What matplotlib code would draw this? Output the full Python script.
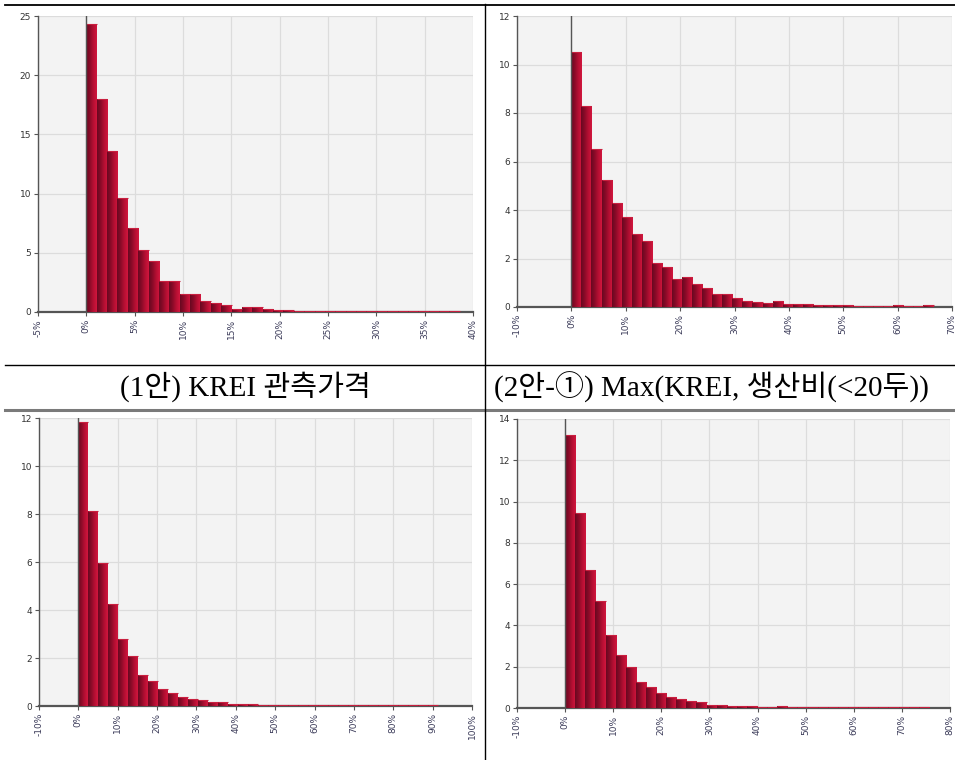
import numpy as np
import matplotlib
matplotlib.use("Agg")
import matplotlib.pyplot as plt
from matplotlib.colors import LinearSegmentedColormap
from matplotlib.lines import Line2D

# ---------------- data ----------------
captions = ["(1안) KREI 관측가격", "(2안-①) Max(KREI, 생산비(<20두))"]

# panel 1 (top-left)
p1_bin_width = 1.073
p1_values = [24.3, 18.0, 13.6, 9.6, 7.07, 5.25, 4.28, 2.62, 2.62, 1.49, 1.49, 0.96,
             0.79, 0.62, 0.28, 0.45, 0.45, 0.28, 0.2, 0.2, 0.1, 0.1, 0.1, 0.1,
             0.1, 0.1, 0.1, 0.1, 0.1, 0.1, 0.1, 0.1, 0.1, 0.1, 0.1, 0.1]
p1_xticks = [-5, 0, 5, 10, 15, 20, 25, 30, 35, 40]
p1_yticks = [0, 5, 10, 15, 20, 25]

# panel 2 (top-right)
p2_bin_width = 1.85
p2_values = [10.52, 8.3, 6.5, 5.23, 4.3, 3.73, 3.02, 2.71, 1.82, 1.65, 1.17, 1.23,
             0.96, 0.8, 0.54, 0.54, 0.37, 0.25, 0.21, 0.17, 0.25, 0.12, 0.12, 0.12,
             0.08, 0.08, 0.08, 0.08, 0.04, 0.04, 0.04, 0.04, 0.08, 0.04, 0.04, 0.08]
p2_xticks = [-10, 0, 10, 20, 30, 40, 50, 60, 70]
p2_yticks = [0, 2, 4, 6, 8, 10, 12]

# panel 3 (bottom-left)
p3_bin_width = 2.54
p3_values = [11.83, 8.14, 5.95, 4.23, 2.78, 2.09, 1.31, 1.04, 0.7, 0.53, 0.38, 0.28,
             0.24, 0.15, 0.15, 0.07, 0.07, 0.07, 0.03, 0.03, 0.03, 0.03, 0.03, 0.03,
             0.03, 0.03, 0.03, 0.03, 0.03, 0.03, 0.03, 0.03, 0.03, 0.03, 0.03, 0.03]
p3_xticks = [-10, 0, 10, 20, 30, 40, 50, 60, 70, 80, 90, 100]
p3_yticks = [0, 2, 4, 6, 8, 10, 12]

# panel 4 (bottom-right)
p4_bin_width = 2.10
p4_values = [13.24, 9.44, 6.67, 5.17, 3.53, 2.58, 1.98, 1.27, 1.03, 0.72, 0.55, 0.43,
             0.34, 0.29, 0.14, 0.14, 0.1, 0.1, 0.1, 0.05, 0.05, 0.1, 0.05, 0.05,
             0.05, 0.05, 0.05, 0.05, 0.05, 0.05, 0.05, 0.05, 0.05, 0.05, 0.05, 0.05]
p4_xticks = [-10, 0, 10, 20, 30, 40, 50, 60, 70, 80]
p4_yticks = [0, 2, 4, 6, 8, 10, 12, 14]

panels = [
    (p1_bin_width, p1_values, p1_xticks, p1_yticks),
    (p2_bin_width, p2_values, p2_xticks, p2_yticks),
    (p3_bin_width, p3_values, p3_xticks, p3_yticks),
    (p4_bin_width, p4_values, p4_xticks, p4_yticks),
]

# ---------------- layout ----------------
W, H = 955, 760
fig = plt.figure(figsize=(W / 100, H / 100), dpi=100)
fig.patch.set_facecolor("white")

def px_axes(left, right, top, bottom):
    return [left / W, 1 - bottom / H, (right - left) / W, (bottom - top) / H]

boxes = [
    px_axes(38, 473, 16, 312),
    px_axes(517, 952, 16, 307),
    px_axes(39, 472, 418, 706),
    px_axes(517, 950, 419, 708),
]

cmap = LinearSegmentedColormap.from_list(
    "bargrad", ["#680820", "#8a0b28", "#b50f33", "#d2163e"])
grad = np.linspace(0, 1, 64).reshape(1, -1)

for (bw, vals, xt, yt), box in zip(panels, boxes):
    ax = fig.add_axes(box)
    ax.set_facecolor("#f3f3f3")
    edges = np.arange(len(vals)) * bw
    bars = ax.bar(edges, vals, width=bw, align="edge", color="#a00d2d",
                  edgecolor="none", zorder=3)
    for b in bars:
        x0, y0 = b.get_x(), b.get_y()
        w, h = b.get_width(), b.get_height()
        im = ax.imshow(grad, extent=[x0, x0 + w, y0, y0 + h], aspect="auto",
                       cmap=cmap, origin="lower", zorder=3.5, interpolation="bilinear")
        im.set_clip_path(b)
        ax.plot([x0, x0 + w], [h, h], color="#c8203f", lw=0.8, zorder=4,
                solid_capstyle="butt")
    ax.set_xlim(xt[0], xt[-1])
    ax.set_ylim(yt[0], yt[-1])
    ax.set_aspect("auto")
    ax.set_xticks(xt)
    ax.set_xticklabels([f"{v}%" for v in xt], rotation=90, fontsize=6.5,
                       color="#3c3c5a")
    ax.set_yticks(yt)
    ax.set_yticklabels([str(v) for v in yt], fontsize=6.5, color="#333333")
    ax.grid(True, color="#dcdcdc", lw=0.9, zorder=0)
    ax.set_axisbelow(True)
    for s in ["top", "right"]:
        ax.spines[s].set_visible(False)
    ax.spines["left"].set_color("#555555")
    ax.spines["left"].set_linewidth(1.0)
    ax.spines["bottom"].set_color("#555555")
    ax.spines["bottom"].set_linewidth(1.6)
    ax.spines["bottom"].set_zorder(2)
    ax.tick_params(axis="both", length=3, width=0.8, color="#555555", pad=2)
    ax.axvline(0, color="#555555", lw=1.0, zorder=5)

# ---------------- table lines & captions ----------------
def hline(y, x0, x1, color, lw):
    fig.add_artist(Line2D([x0 / W, x1 / W], [1 - y / H, 1 - y / H],
                          color=color, lw=lw, transform=fig.transFigure))

def vline(x, y0, y1, color, lw):
    fig.add_artist(Line2D([x / W, x / W], [1 - y0 / H, 1 - y1 / H],
                          color=color, lw=lw, transform=fig.transFigure))

hline(4.5, 5, 955, "black", 1.3)
hline(365, 5, 955, "black", 1.0)
hline(409.5, 5, 955, "#7a7a7a", 2.2)
vline(484.5, 4, 760, "black", 1.0)

cap_font = ["Liberation Serif", "Noto Sans CJK KR", "DejaVu Sans"]
fig.text(245 / W, 1 - 387 / H, captions[0], ha="center", va="center",
         fontsize=21, family=cap_font)
fig.text(711 / W, 1 - 387 / H, captions[1], ha="center", va="center",
         fontsize=21, family=cap_font)

fig.savefig("out.png", dpi=100)
